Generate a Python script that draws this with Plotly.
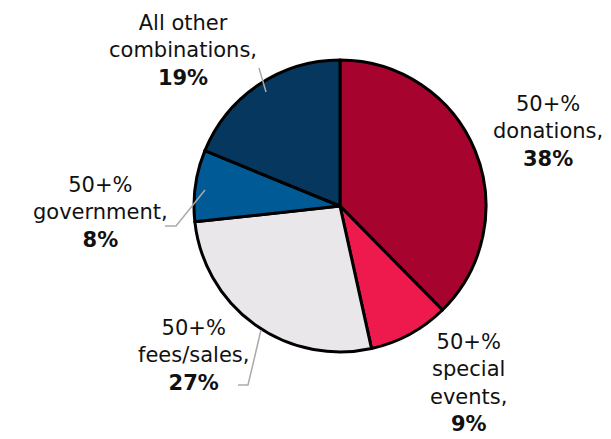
import plotly.graph_objects as go

# --- Data ---
labels = ["50+% donations", "50+% special events", "50+% fees/sales",
          "50+% government", "All other combinations"]
shares = [38, 9, 27, 8, 19]
colors = ["#A6032F", "#EE1A4E", "#E9E7EA", "#005A96", "#06375F"]
label_text = ["50+%<br>donations,", "50+%<br>special<br>events,", "50+%<br>fees/sales,",
              "50+%<br>government,", "All other<br>combinations,"]

W, H = 611, 439

fig = go.Figure()

fig.add_trace(go.Pie(
    labels=labels,
    values=shares,
    sort=False,
    direction="clockwise",
    rotation=0,
    marker=dict(colors=colors, line=dict(color="black", width=3)),
    textinfo="none",
    hoverinfo="label+percent",
    showlegend=False,
    domain=dict(x=[186 / W, 478 / W], y=[1 - 344 / H, 1 - 52 / H]),
))

# label placement in pixel space (x, y centre)
label_pos = [(540, 124), (460, 375), (185, 347), (92, 204), (175, 42)]
for txt, pct, (lx, ly) in zip(label_text, shares, label_pos):
    fig.add_annotation(
        x=lx / W, y=1 - ly / H, xref="paper", yref="paper",
        text=f"{txt}<br><b>{pct}%</b>", showarrow=False,
        xanchor="center", yanchor="middle", align="center",
        font=dict(family="DejaVu Sans, sans-serif", size=21, color="#111"),
    )

# leader lines (pixel coords)
leaders = [
    [(251, 60), (258, 84)],
    [(157, 218), (168, 218), (197, 182)],
    [(230, 377), (240, 377), (253, 322)],
]
for pts in leaders:
    path = "M " + " L ".join(f"{x / W},{1 - y / H}" for x, y in pts)
    fig.add_shape(type="path", path=path, xref="paper", yref="paper",
                  line=dict(color="#AAAAAA", width=1.5))

fig.update_layout(
    width=W, height=H,
    margin=dict(l=0, r=0, t=0, b=0),
    paper_bgcolor="white",
    plot_bgcolor="white",
)

fig.write_html("out.html")
